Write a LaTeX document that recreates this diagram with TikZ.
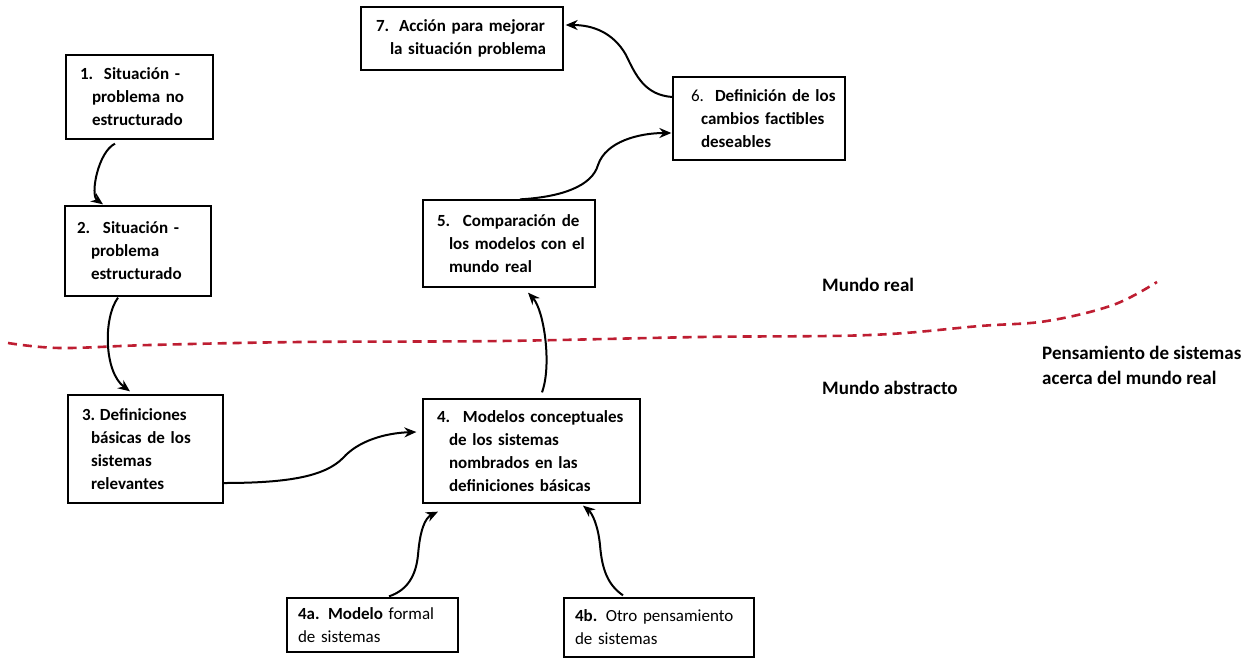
\documentclass[tikz,border=0pt]{standalone}
\usepackage{fontspec}
\setmainfont{Carlito}
\usetikzlibrary{arrows.meta,calc}
% indentation at the start of a line inside a box
\newcommand\ind[1]{\hspace*{#1pt}}
% number followed by the first line of an item
\newcommand\num[2][24pt]{\makebox[#1][l]{#2}}
\definecolor{limit}{RGB}{190,30,50}
\begin{document}
\begin{tikzpicture}[x=1pt,y=-1pt,
  box/.style={draw, line width=1.3pt, inner sep=0pt, text width=#1,
    align=left, font=\fontsize{17}{23}\selectfont},
  lbl/.style={inner sep=0pt, align=left, font=\bfseries\fontsize{19}{25}\selectfont},
  arr/.style={line width=2pt, -{Stealth[length=12pt,width=10pt]}},
  limitline/.style={limit, line width=2.6pt, dash pattern=on 9pt off 6pt}]
\useasboundingbox (0,0) rectangle (1258,659);

% boxes of the methodology
\node[box=147pt, minimum height=84pt] (b1) at (139.5,97)
  {\bfseries\ind{14}\num{1.}Situación -\\\ind{26}problema no\\\ind{26}estructurado};
\node[box=146pt, minimum height=90pt] (b2) at (138,251)
  {\bfseries\ind{12}\num[26pt]{2.}Situación -\\\ind{26}problema\\\ind{26}estructurado};
\node[box=155pt, minimum height=108pt] (b3) at (145.5,449)
  {\bfseries\ind{14}\num[18pt]{3.}Definiciones\\\ind{23}básicas de los\\\ind{23}sistemas\\\ind{23}relevantes};
\node[box=217pt, minimum height=104pt] (b4) at (531.5,451)
  {\bfseries\ind{14}\num[26pt]{4.}Modelos conceptuales\\\ind{26}de los sistemas\\\ind{26}nombrados en las\\\ind{26}definiciones básicas};
\node[box=172pt, minimum height=87pt] (b5) at (509,243.5)
  {\bfseries\ind{14}\num[26pt]{5.}Comparación de\\\ind{26}los modelos con el\\\ind{26}mundo real};
\node[box=172pt, minimum height=83pt] (b6) at (759,118.5)
  {\bfseries\ind{18}\num{\mdseries 6.}Definición de los\\\ind{28}cambios factibles\\\ind{28}deseables};
\node[box=202pt, minimum height=63pt] (b7) at (462,38.5)
  {\bfseries\ind{15}\num[23pt]{7.}Acción para mejorar\\\ind{29}la situación problema};
\node[box=171pt, minimum height=54pt] (b4a) at (372.5,625)
  {\ind{11}\textbf{4a. Modelo} formal\\\ind{11}de sistemas};
\node[box=190pt, minimum height=59pt] (b4b) at (659,627.5)
  {\ind{11}\textbf{4b.} Otro pensamiento\\\ind{11}de sistemas};

% boundary between the real world and the abstract world
\draw[limitline] plot[smooth, tension=0.6] coordinates
  {(8,343) (60,348) (150,345) (300,342) (500,341) (700,337) (870,335)
   (980,326) (1047,321) (1113,305) (1157,282)};

% labels of the two worlds
\node[lbl, anchor=west] (real) at (822,285) {Mundo real};
\node[lbl, anchor=west] (abst) at (822,388) {Mundo abstracto};
\node[lbl, anchor=west] (pens) at (1042,365.5) {Pensamiento de sistemas\\acerca del mundo real};

% flow between the stages
\draw[arr] ([xshift=-24.5,yshift=-4]b1.south) .. controls (98,152) and (90,195) .. ([xshift=-35,yshift=1]b2.north);
\draw[arr] ([xshift=-20,yshift=-1]b2.south) .. controls (103,318) and (104,372) .. ([xshift=-15.5,yshift=3]b3.north);
\draw[arr] ([yshift=-34]b3.east) .. controls (290,483) and (325,476) .. (343,458)
  .. controls (358,441) and (385,433) .. ([xshift=-6,yshift=19]b4.west);
\draw[arr] ([xshift=10.5,yshift=6]b4.north) .. controls (552,365) and (544,310) .. ([xshift=19,yshift=-5]b5.south);
\draw[arr] ([xshift=11]b5.north) .. controls (562,197) and (592,186) .. (598,165)
  .. controls (606,141) and (640,133) .. ([xshift=-1,yshift=-14.5]b6.west);
\draw[arr] ([yshift=21.5]b6.west) .. controls (645,95) and (636,76) .. (626,55)
  .. controls (613,32) and (592,25) .. ([xshift=2,yshift=13.5]b7.east);
\draw[arr] ([xshift=16.5,yshift=1]b4a.north) .. controls (408,590) and (416,575) .. (418,555)
  .. controls (420,530) and (425,518) .. ([xshift=-93.5,yshift=-8]b4.south);
\draw[arr] ([xshift=-36,yshift=2]b4b.north) .. controls (608,585) and (602,570) .. (600,545)
  .. controls (598,525) and (592,513) .. ([xshift=51.5,yshift=-2]b4.south);
\end{tikzpicture}
\end{document}
